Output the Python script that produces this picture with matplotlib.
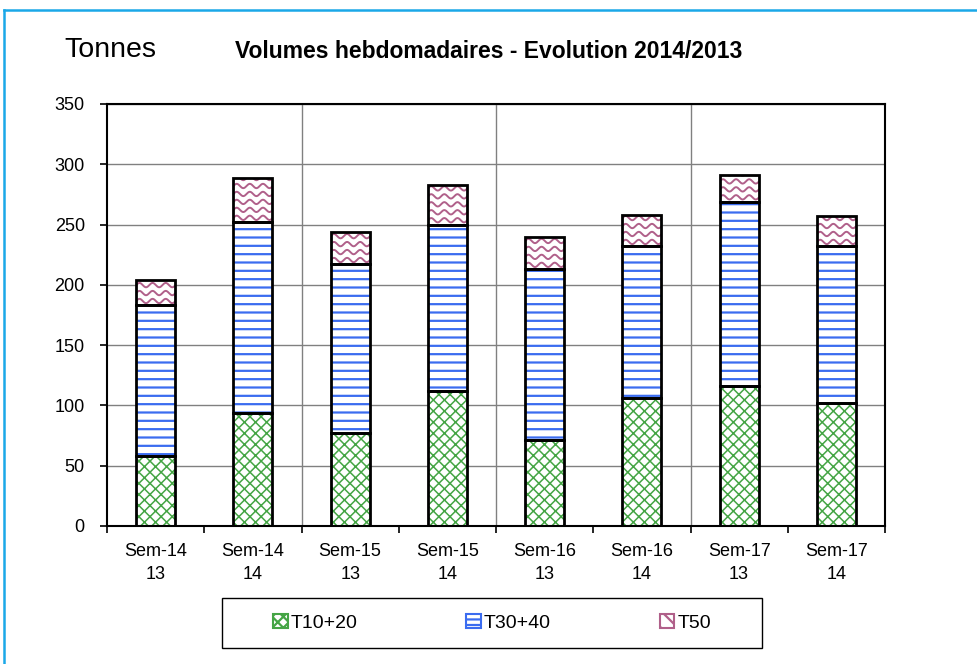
import numpy as np
import matplotlib.pyplot as plt
from matplotlib.patches import Patch, Rectangle
from matplotlib.lines import Line2D

plt.rcParams['font.family'] = ['Liberation Sans', 'DejaVu Sans']
plt.rcParams['hatch.linewidth'] = 1.6

# data (tonnes)
weeks = ["Sem-14\n13", "Sem-14\n14", "Sem-15\n13", "Sem-15\n14",
         "Sem-16\n13", "Sem-16\n14", "Sem-17\n13", "Sem-17\n14"]
t10_20 = [58, 94, 77, 112, 71, 106, 116, 102]
t30_40 = [125, 158, 140, 138, 142, 126, 153, 130]
t50 = [21, 37, 27, 33, 27, 26, 22, 25]
series_names = ["T10+20", "T30+40", "T50"]

green = '#45a545'
blue = '#3b6cf0'
pink = '#b0608a'

fig = plt.figure(figsize=(9.77, 6.64), dpi=100)
ax = fig.add_axes([107/977, 1 - 526/664, (885-107)/977, (526-104)/664])

x = np.arange(len(weeks))
w = 0.4
b2 = np.array(t10_20)
b3 = b2 + np.array(t30_40)

# hatched fills
green_bars = ax.bar(x, t10_20, w, color='white', edgecolor=green, hatch='xxx', lw=0, zorder=2)
for p in green_bars:
    if hasattr(p, 'set_hatch_linewidth'):
        p.set_hatch_linewidth(1.1)
ax.bar(x, t30_40, w, bottom=b2, color='white', edgecolor=blue, hatch='--', lw=0, zorder=2)
top_bars = ax.bar(x, t50, w, bottom=b3, color='white', edgecolor='none', lw=0, zorder=2)

# wavy pattern for T50, clipped to each bar
for bar in top_bars:
    x0, y0 = bar.get_x(), bar.get_y()
    bw, bh = bar.get_width(), bar.get_height()
    xs = np.linspace(x0, x0 + bw, 200)
    for yy in np.arange(y0 - 3, y0 + bh + 6, 6.6):
        ln, = ax.plot(xs, yy + 1.8 * np.sin(2 * np.pi * (xs - x0) / 0.135),
                      color=pink, lw=1.4, zorder=2.5)
        ln.set_clip_path(bar)

# black outlines
for vals, bottom in [(t10_20, 0), (t30_40, b2), (t50, b3)]:
    ax.bar(x, vals, w, bottom=bottom, facecolor='none', edgecolor='black', lw=2, zorder=3)

ax.set_xlim(-0.5, len(weeks) - 0.5)
ax.set_ylim(0, 350)
ax.set_yticks(np.arange(0, 351, 50))
ax.yaxis.grid(True, color='#808080', lw=1)
ax.set_axisbelow(True)
for i in range(2, len(weeks), 2):
    ax.axvline(i - 0.5, color='#808080', lw=1, zorder=0.5)

ax.set_xticks(x)
ax.set_xticklabels(weeks, fontsize=13, linespacing=1.45)
ax.set_xticks(np.arange(len(weeks) + 1) - 0.5, minor=True)
ax.tick_params(axis='x', which='major', length=0, pad=12)
ax.tick_params(axis='x', which='minor', length=5, width=1.2, direction='out')
ax.tick_params(axis='y', length=5, width=1.2, labelsize=13, pad=11)
for s in ax.spines.values():
    s.set_linewidth(1.5)

fig.text(64/977, 1 - 50/664, "Tonnes", fontsize=20.5, va='center', ha='left')
fig.text(489/977, 1 - 52/664, "Volumes hebdomadaires - Evolution 2014/2013",
         fontsize=16.5, fontweight='bold', va='center', ha='center')

# legend box
fig.add_artist(Rectangle((222/977, 1 - 648/664), 540/977, 50/664,
                         transform=fig.transFigure, fill=False, ec='black', lw=1))
handles = [Patch(facecolor='white', edgecolor=green, hatch='xxx'),
           Patch(facecolor='white', edgecolor=blue, hatch='---'),
           Patch(facecolor='white', edgecolor=pink, hatch='\\\\')]
leg = fig.legend(handles, series_names, loc='center', ncol=3,
                 bbox_to_anchor=(492/977, 1 - 623/664),
                 fontsize=14, frameon=False,
                 handlelength=0.75, handleheight=0.75, handletextpad=0.15,
                 columnspacing=5.6)
for h in leg.legend_handles:
    h.set_linewidth(1.5)

# thin blue outline of the picture (top and left edges)
fig.add_artist(Line2D([4/977, 1], [1 - 10/664, 1 - 10/664], color='#1aa8e8', lw=1.8))
fig.add_artist(Line2D([4/977, 4/977], [0, 1 - 10/664], color='#1aa8e8', lw=1.8))

fig.savefig('out.png', dpi=100, facecolor='white')
